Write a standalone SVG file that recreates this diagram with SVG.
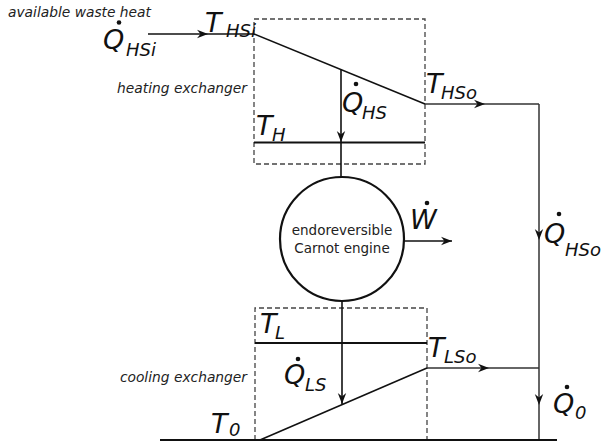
<svg xmlns="http://www.w3.org/2000/svg" xmlns:xlink="http://www.w3.org/1999/xlink" width="602" height="447" viewBox="0 0 602 447">
<style>
.ln{stroke:#111;stroke-width:1.6;fill:none}
.thick{stroke:#111;stroke-width:2.2;fill:none}
.gr{stroke:#333;stroke-width:1.5;fill:none}
.dash{stroke:#444;stroke-width:1.3;fill:none;stroke-dasharray:5,3}
.lab{font-family:"DejaVu Sans",Verdana,sans-serif;font-style:italic;font-size:13.8px;fill:#222}
.m{font-family:"DejaVu Sans",Verdana,sans-serif;font-style:italic;font-size:27px;fill:#111}
.s{font-family:"DejaVu Sans",Verdana,sans-serif;font-style:italic;font-size:18px;fill:#111}
.eng{font-family:"DejaVu Sans",Verdana,sans-serif;font-size:13.5px;fill:#222}
.ah{fill:#111}
</style>
<defs>
<path id="ah" d="M0,0 L-11,-4.2 L-7.5,0 L-11,4.2 Z"/>
</defs>
<rect width="602" height="447" fill="#fff"/>

<g id="heating-exchanger">
<rect class="dash" x="254" y="19" width="171" height="145"/>
<line class="thick" x1="254" y1="142.5" x2="425" y2="142.5"/>
<line class="ln" x1="254" y1="34" x2="425" y2="104"/>
<text class="lab" x="247" y="93" text-anchor="end">heating exchanger</text>
<text class="m" x="205" y="32">T</text><text class="s" x="226" y="37">HSi</text>
<text class="m" x="256" y="135">T</text><text class="s" x="272" y="141">H</text>
<text class="m" x="426" y="93">T</text><text class="s" x="441" y="99">HSo</text>
</g>

<g id="engine">
<circle class="thick" cx="342" cy="239" r="62"/>
<text class="eng" x="342" y="235" text-anchor="middle">endoreversible</text>
<text class="eng" x="342" y="253" text-anchor="middle">Carnot engine</text>
</g>

<g id="cooling-exchanger">
<path class="dash" d="M255,440 V308 H427 V440"/>
<line class="thick" x1="255" y1="343" x2="427" y2="343"/>
<line class="ln" x1="260" y1="440" x2="427" y2="368"/>
<text class="lab" x="247" y="382" text-anchor="end">cooling exchanger</text>
<text class="m" x="260" y="333">T</text><text class="s" x="275" y="339">L</text>
<text class="m" x="428" y="357">T</text><text class="s" x="444" y="363">LSo</text>
<text class="m" x="211" y="433">T</text><text class="s" x="229" y="436">0</text>
</g>

<g id="source-label">
<text class="lab" x="8" y="17">available waste heat</text>
</g>

<g id="connectors">
<line class="ln" x1="148" y1="34" x2="254" y2="34"/>
<use href="#ah" class="ah" transform="translate(208,34)"/>
<line class="ln" x1="341" y1="69" x2="341" y2="178"/>
<use href="#ah" class="ah" transform="translate(341,142) rotate(90)"/>
<line class="gr" x1="425" y1="104" x2="539" y2="104"/>
<use href="#ah" class="ah" transform="translate(485,104)"/>
<line class="gr" x1="539" y1="104" x2="539" y2="440"/>
<use href="#ah" class="ah" transform="translate(539,240) rotate(90)"/>
<line class="ln" x1="404" y1="241" x2="452" y2="241"/>
<use href="#ah" class="ah" transform="translate(452,241)"/>
<line class="ln" x1="342" y1="301" x2="342" y2="404"/>
<use href="#ah" class="ah" transform="translate(342,404) rotate(90)"/>
<line class="gr" x1="427" y1="368" x2="539" y2="368"/>
<use href="#ah" class="ah" transform="translate(489,368)"/>
<use href="#ah" class="ah" transform="translate(539,405) rotate(90)"/>
<line class="thick" x1="160" y1="440" x2="557" y2="440"/>
</g>

<g id="flow-labels">
<text class="m" x="103" y="49">Q</text><text class="s" x="126" y="56">HSi</text><circle cx="119" cy="22.5" r="2.3" fill="#111"/>
<text class="m" x="342" y="112">Q</text><text class="s" x="362" y="119">HS</text><circle cx="356" cy="84" r="2.3" fill="#111"/>
<text class="m" x="410" y="229">W</text><circle cx="427" cy="203" r="2.3" fill="#111"/>
<text class="m" x="544" y="243">Q</text><text class="s" x="565" y="256">HSo</text><circle cx="559" cy="214" r="2.3" fill="#111"/>
<text class="m" x="284" y="384">Q</text><text class="s" x="305" y="391">LS</text><circle cx="298" cy="359" r="2.3" fill="#111"/>
<text class="m" x="553" y="413">Q</text><text class="s" x="575" y="419">0</text><circle cx="567" cy="387" r="2.3" fill="#111"/>
</g>
</svg>
